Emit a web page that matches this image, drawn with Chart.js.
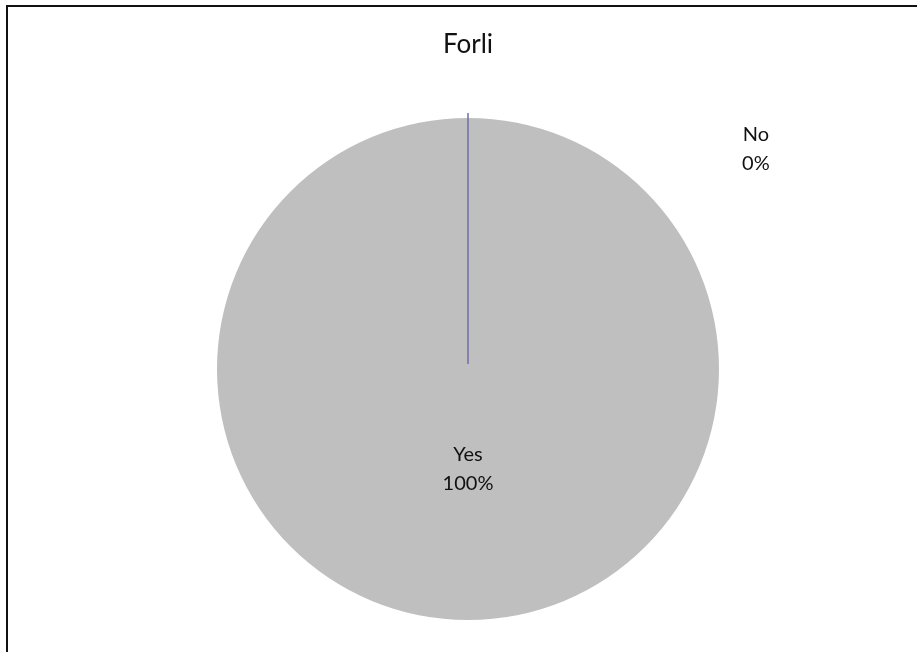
<!DOCTYPE html>
<html>
<head>
<meta charset="utf-8">
<title>Forli</title>
<script src="https://cdn.jsdelivr.net/npm/chart.js@4/dist/chart.umd.min.js"></script>
<style>
    html, body { margin: 0; padding: 0; background: #fff; overflow: hidden; }
    #wrap { position: relative; width: 917px; height: 652px; }
    #frame {
        position: absolute; left: 6px; top: 5px; width: 940px; height: 680px;
        border: 2px solid #111; box-sizing: border-box; pointer-events: none;
    }
    canvas { position: absolute; left: 0; top: 0; }
</style>
</head>
<body>
<div id="wrap">
    <canvas id="pieChart" width="917" height="652"></canvas>
    <div id="frame"></div>
</div>
<script>
const chartTitle = 'Forli';
const categories = ['Yes', 'No'];
const values = [100, 0];
const percentLabels = ['100%', '0%'];

// zero slice is skipped by Chart.js, so draw its edge as a line like Excel does
const zeroSliceLine = {
    id: 'zeroSliceLine',
    afterDatasetsDraw(chart) {
        const meta = chart.getDatasetMeta(0);
        const ctx = chart.ctx;
        meta.data.forEach((arc, i) => {
            if (values[i] !== 0) return;
            const { x, y, startAngle, outerRadius } = arc.getProps(['x', 'y', 'startAngle', 'outerRadius'], true);
            ctx.save();
            ctx.strokeStyle = '#6e6ea6';
            ctx.lineWidth = 1.5;
            ctx.beginPath();
            ctx.moveTo(x + Math.cos(startAngle) * 5, y + Math.sin(startAngle) * 5);
            ctx.lineTo(x + Math.cos(startAngle) * (outerRadius + 5), y + Math.sin(startAngle) * (outerRadius + 5));
            ctx.stroke();
            ctx.restore();
        });
    }
};

// category + percent labels
const sliceLabels = {
    id: 'sliceLabels',
    afterDraw(chart) {
        const meta = chart.getDatasetMeta(0);
        const ctx = chart.ctx;
        ctx.save();
        ctx.font = '20px Lato';
        ctx.fillStyle = '#111111';
        ctx.textAlign = 'center';
        ctx.textBaseline = 'middle';
        meta.data.forEach((arc, i) => {
            const { x, y, outerRadius } = arc.getProps(['x', 'y', 'outerRadius'], true);
            let lx, ly;
            if (values[i] === 0) {
                lx = x + outerRadius * 1.147;
                ly = y - outerRadius * 0.877;
            } else {
                lx = x;
                ly = y + outerRadius * 0.4;
            }
            ctx.fillText(categories[i], lx, ly - 14.5);
            ctx.fillText(percentLabels[i], lx, ly + 14.5);
        });
        ctx.restore();
    }
};

const ctx = document.getElementById('pieChart').getContext('2d');
new Chart(ctx, {
    type: 'pie',
    data: {
        labels: categories,
        datasets: [{
            data: values,
            backgroundColor: ['#bfbfbf', '#6e6ea6'],
            borderWidth: 0
        }]
    },
    options: {
        responsive: false,
        animation: false,
        rotation: 0,
        layout: { padding: { left: 19, right: 0, top: 0, bottom: 32 } },
        plugins: {
            legend: { display: false },
            tooltip: { enabled: false },
            title: {
                display: true,
                text: chartTitle,
                color: '#111111',
                font: { family: 'Lato', size: 26, weight: 'normal', lineHeight: 1.2 },
                padding: { top: 29, bottom: 57.8 }
            }
        }
    },
    plugins: [zeroSliceLine, sliceLabels]
});
</script>
</body>
</html>
